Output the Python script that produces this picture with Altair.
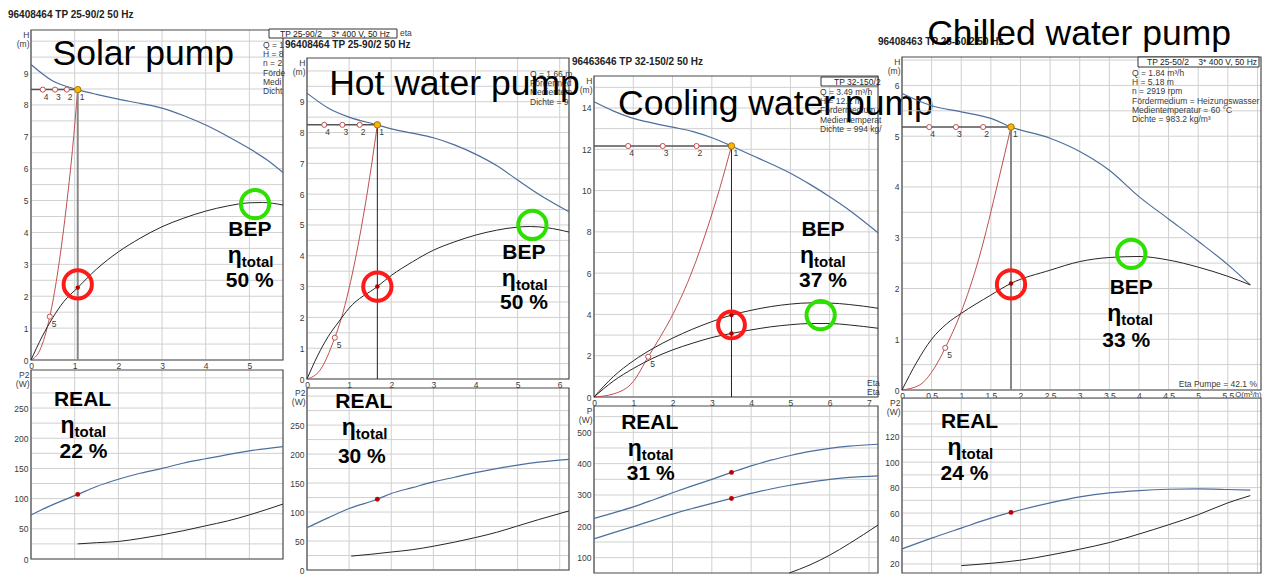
import altair as alt
import pandas as pd

FONT = "Liberation Sans"
BLUE = "#4d6e9c"
SYS = "#c0504d"
ETA = "#262626"
GRID = "#d0d0d0"
BORDER = "#4a4a4a"
TXT = "#3a3a3a"
RED = "#ff1a1a"
GREEN = "#2ee000"
NB = "\u00a0"

# ---------------- Solar pump (96408464 TP 25-90/2) ----------------
solar_h_q = [0, 0.5, 1.07, 1.5, 2, 2.5, 3, 3.5, 4, 4.5, 5, 5.4, 5.77]
solar_h_v = [9.27, 8.75, 8.48, 8.33, 8.18, 8.05, 7.9, 7.66, 7.37, 7.02, 6.63, 6.28, 5.88]
solar_eta_q = [0, 0.25, 0.5, 0.75, 1.07, 1.5, 2, 2.5, 3, 3.5, 4, 4.5, 5, 5.3, 5.77]
solar_eta_v = [0, 0.72, 1.33, 1.83, 2.27, 2.85, 3.39, 3.82, 4.18, 4.45, 4.67, 4.83, 4.93, 4.94, 4.86]
solar_sys_q = [0, 0.2, 0.43, 0.6, 0.8, 0.95, 1.07]
solar_sys_v = [0, 0.3, 1.36, 2.65, 4.7, 6.6, 8.48]
solar_p_q = [0, 0.5, 1.07, 1.5, 2, 2.5, 3, 3.5, 4, 4.5, 5, 5.77]
solar_p_v = [73, 90, 107, 120, 132, 142, 150, 159, 166, 173, 179, 186]
solar_low_q = [1.07, 1.5, 2, 2.5, 3, 3.5, 4, 4.5, 5, 5.77]
solar_low_v = [25, 27, 29, 34, 40, 47, 55, 63, 73, 91]
solar_op = [1.07, 8.48]
solar_op_eta = [2.27]
solar_op_p = [107]
solar_pts_q = [0.82, 0.55, 0.27]
solar_p5 = [0.43, 1.36]
solar_red_c = [1.07, 2.37]
solar_green_c = [5.13, 4.89]

# ---------------- Hot water pump (96408464 TP 25-90/2) ----------------
hot_h_q = [0, 0.5, 1, 1.67, 2, 2.5, 3, 3.5, 4, 4.5, 5, 5.5, 6.22]
hot_h_v = [9.28, 8.8, 8.5, 8.25, 8.12, 7.98, 7.83, 7.6, 7.3, 6.93, 6.46, 6.0, 5.43]
hot_eta_q = [0, 0.25, 0.5, 0.75, 1, 1.67, 2, 2.5, 3, 3.5, 4, 4.5, 5, 5.3, 5.7, 6.22]
hot_eta_v = [0, 0.75, 1.37, 1.85, 2.3, 3.0, 3.36, 3.8, 4.18, 4.45, 4.67, 4.83, 4.93, 4.95, 4.91, 4.77]
hot_sys_q = [0, 0.3, 0.66, 0.8, 1.0, 1.28, 1.5, 1.67]
hot_sys_v = [0, 0.27, 1.34, 1.9, 2.95, 4.84, 6.65, 8.25]
hot_p_q = [0, 0.5, 1, 1.67, 2, 2.5, 3, 3.5, 4, 4.5, 5, 5.5, 6.22]
hot_p_v = [73, 90, 106, 122, 132, 142, 152, 160, 168, 175, 181, 186, 191]
hot_low_q = [1.05, 1.5, 2, 2.5, 3, 3.5, 4, 4.5, 5, 5.5, 6.22]
hot_low_v = [24, 27, 31, 35, 41, 48, 56, 65, 76, 87, 102]
hot_op = [1.67, 8.25]
hot_op_eta = [3.0]
hot_op_p = [122]
hot_pts_q = [1.25, 0.84, 0.41]
hot_p5 = [0.66, 1.34]
hot_red_c = [1.67, 3.0]
hot_green_c = [5.35, 5.0]

# ---------------- Cooling water pump (96463646 TP 32-150/2) ----------------
cool_h_q = [0, 0.5, 1, 1.5, 2, 2.5, 3, 3.5, 4, 4.5, 5, 5.5, 6, 6.5, 7.23]
cool_h_v = [14.3, 13.85, 13.5, 13.27, 13.07, 12.87, 12.56, 12.16, 11.72, 11.3, 10.84, 10.3, 9.7, 9.05, 7.96]
cool_eta1_q = [0, 0.5, 1, 1.5, 2, 2.5, 3, 3.5, 4, 4.5, 5, 5.5, 6, 6.5, 7.23]
cool_eta1_v = [0, 1.0, 1.75, 2.35, 2.85, 3.28, 3.65, 3.97, 4.2, 4.38, 4.5, 4.56, 4.55, 4.48, 4.3]
cool_eta2_q = [0, 0.5, 1, 1.5, 2, 2.5, 3, 3.5, 4, 4.5, 5, 5.5, 6, 6.5, 7.23]
cool_eta2_v = [0, 0.78, 1.38, 1.88, 2.28, 2.6, 2.88, 3.08, 3.25, 3.4, 3.5, 3.56, 3.56, 3.49, 3.33]
cool_sys_q = [0, 0.5, 1, 1.38, 1.7, 2.02, 2.5, 2.87, 3.2, 3.5]
cool_sys_v = [0, 0.15, 0.75, 1.95, 2.95, 4.05, 6.1, 8.09, 10.1, 12.16]
cool_p1_q = [0, 0.5, 1, 1.5, 2, 2.5, 3, 3.5, 4, 4.5, 5, 5.5, 6, 6.5, 7.23]
cool_p1_v = [225, 243, 262, 284, 307, 329, 350, 372, 393, 411, 426, 439, 449, 456, 462]
cool_p2_q = [0, 0.5, 1, 1.5, 2, 2.5, 3, 3.5, 4, 4.5, 5, 5.5, 6, 6.5, 7.23]
cool_p2_v = [160, 180, 199, 219, 239, 257, 273, 289, 305, 319, 331, 341, 350, 356, 361]
cool_low_q = [4.97, 5.5, 6, 6.5, 7.23]
cool_low_v = [51, 77, 108, 145, 204]
cool_op = [3.5, 12.16]
cool_op_eta = [3.97, 3.08]
cool_op_p = [372, 289]
cool_pts_q = [2.61, 1.75, 0.87]
cool_p5 = [1.38, 1.95]
cool_red_c = [3.5, 3.49]
cool_green_c = [5.77, 3.97]

# ---------------- Chilled water pump (96408463 TP 25-50/2) ----------------
chill_h_q = [0, 0.5, 1, 1.5, 1.84, 2.5, 3, 3.5, 4, 4.5, 5, 5.5, 5.88]
chill_h_v = [5.84, 5.6, 5.48, 5.35, 5.18, 4.96, 4.7, 4.33, 3.81, 3.37, 2.93, 2.47, 2.07]
chill_eta_q = [0, 0.25, 0.5, 0.75, 1, 1.5, 1.84, 2.5, 3, 3.5, 4, 4.5, 5, 5.5, 5.88]
chill_eta_v = [0, 0.55, 1.0, 1.3, 1.51, 1.87, 2.1, 2.36, 2.53, 2.61, 2.63, 2.56, 2.42, 2.24, 2.07]
chill_sys_q = [0, 0.3, 0.5, 0.73, 0.99, 1.3, 1.63, 1.84]
chill_sys_v = [0, 0.1, 0.35, 0.83, 1.51, 2.6, 4.14, 5.18]
chill_p_q = [0, 0.5, 1, 1.5, 1.84, 2.5, 3, 3.5, 4, 4.5, 5, 5.5, 5.88]
chill_p_v = [31.8, 40.3, 48.2, 56, 60.5, 68, 72.7, 75.9, 77.7, 78.7, 79, 78.5, 78]
chill_low_q = [1, 1.5, 2, 2.5, 3, 3.5, 4, 4.5, 5, 5.5, 5.88]
chill_low_v = [18.7, 20.5, 23, 27, 31.6, 36.8, 43.5, 50.8, 58.7, 68, 73.7]
chill_op = [1.84, 5.18]
chill_op_eta = [2.1]
chill_op_p = [60.5]
chill_pts_q = [1.37, 0.91, 0.46]
chill_p5 = [0.73, 0.83]
chill_red_c = [1.84, 2.08]
chill_green_c = [3.87, 2.68]

# texts
titles = ["Solar pump", "Hot water pump", "Cooling water pump", "Chilled water pump"]
headers = ["96408464 TP 25-90/2 50 Hz", "96408464 TP 25-90/2 50 Hz",
           "96463646 TP 32-150/2 50 Hz", "96408463 TP 25-50/2 50 Hz"]
bep_pct = ["50 %", "50 %", "37 %", "33 %"]
real_pct = ["22 %", "30 %", "31 %", "24 %"]

W, H = 1254, 565


def frame(q, v):
    return pd.DataFrame({"q": q, "v": v})


def one(q, v):
    return pd.DataFrame({"q": [q], "v": [v]})


def rng(a, b, s):
    out, v = [], a
    while v <= b + 1e-9:
        out.append(round(v, 3))
        v += s
    return out


def axis(values, expr, orient, offset, title=None, labels=True, title_y=0):
    kw = dict(values=values, orient=orient, offset=offset, domain=False, ticks=False, grid=False,
              labelFont=FONT, labelFontSize=8.5, labelColor=TXT, labelFlush=False,
              labelOverlap=False, labels=labels)
    if expr:
        kw["labelExpr"] = expr
    if title:
        kw.update(title=title, titleAngle=0, titleAlign="right", titleBaseline="top", titleX=-2,
                  titleY=title_y, titleFont=FONT, titleFontSize=8.5, titleFontWeight="normal",
                  titleColor=TXT, titleLineHeight=9, labelPadding=3)
    else:
        kw.update(title=None, labelPadding=1)
    return alt.Axis(**kw)


def gridlines(X, Y, xdom, ydom, xgrid, ygrid):
    vx = pd.DataFrame({"q": xgrid, "v": [ydom[0]] * len(xgrid), "v2": [ydom[1]] * len(xgrid)})
    hy = pd.DataFrame({"v": ygrid, "q": [xdom[0]] * len(ygrid), "q2": [xdom[1]] * len(ygrid)})
    return [
        alt.Chart(vx).mark_rule(color=GRID, strokeWidth=1).encode(x=X, y=Y, y2=alt.Y2("v2")),
        alt.Chart(hy).mark_rule(color=GRID, strokeWidth=1).encode(y=Y, x=X, x2=alt.X2("q2")),
    ]


def note(X, Y, xy, head, pct, eta_dx=-8, pct_dx=0, pct_dy=51):
    base = alt.Chart(one(xy[0], xy[1]))
    c = dict(font=FONT, fontWeight="bold", color="black")
    return [
        base.mark_text(text=head, fontSize=21, align="center", baseline="middle", **c).encode(x=X, y=Y),
        base.mark_text(text="η", fontSize=23, align="right", baseline="alphabetic", dx=eta_dx, dy=33, **c).encode(x=X, y=Y),
        base.mark_text(text="total", fontSize=15, align="left", baseline="alphabetic", dx=eta_dx, dy=37, **c).encode(x=X, y=Y),
        base.mark_text(text=pct, fontSize=21, align="center", baseline="middle", dx=pct_dx, dy=pct_dy, **c).encode(x=X, y=Y),
    ]


def border(X, Y, xdom, ydom):
    d = pd.DataFrame({"q": [xdom[0]], "q2": [xdom[1]], "v": [ydom[0]], "v2": [ydom[1]]})
    return alt.Chart(d).mark_rect(fill="transparent", stroke=BORDER, strokeWidth=1.2).encode(
        x=X, x2=alt.X2("q2"), y=Y, y2=alt.Y2("v2"))


def upper(p):
    x0, x1 = p["xr"]
    yb, yt = p["ur"]
    xdom, ydom = [0, p["xmax"]], [0, p["ymax"]]
    xs = alt.Scale(domain=xdom, range=[x0, x1], nice=False, zero=False)
    ys = alt.Scale(domain=ydom, range=[yb, yt], nice=False, zero=False)
    X = alt.X("q:Q", scale=xs, axis=axis(p["xgrid"], p["xlab"], "bottom", -(H - yb)))
    Y = alt.Y("v:Q", scale=ys, axis=axis(p["ygrid"], p["ylab"], "left", -x0, title=["H", "(m)"], title_y=yt))
    L = gridlines(X, Y, xdom, ydom, p["xgrid"], p["ygrid"])
    L.append(border(X, Y, xdom, ydom))
    L.append(alt.Chart(frame(p["h_q"], p["h_v"])).mark_line(color=BLUE, strokeWidth=1.2, interpolate="monotone").encode(x=X, y=Y))
    L.append(alt.Chart(frame(p["sys_q"], p["sys_v"])).mark_line(color=SYS, strokeWidth=1, interpolate="monotone").encode(x=X, y=Y))
    for eq, ev in p["etas"]:
        L.append(alt.Chart(frame(eq, ev)).mark_line(color=ETA, strokeWidth=1, interpolate="monotone").encode(x=X, y=Y))
    oq, oh = p["op"]
    L.append(alt.Chart(pd.DataFrame({"q": [0], "q2": [oq], "v": [oh]})).mark_rule(color="#555", strokeWidth=1.5).encode(x=X, x2=alt.X2("q2"), y=Y))
    L.append(alt.Chart(pd.DataFrame({"q": [oq], "v": [0], "v2": [oh]})).mark_rule(color=p["vcol"], strokeWidth=p["vw"]).encode(x=X, y=Y, y2=alt.Y2("v2")))
    pts = pd.DataFrame({"q": p["pts_q"], "v": [oh] * 3, "lab": ["2", "3", "4"]})
    L.append(alt.Chart(pts).mark_point(shape="circle", filled=True, fill="white", stroke=SYS, strokeWidth=1, size=26, opacity=1).encode(x=X, y=Y))
    L.append(alt.Chart(pts).mark_text(font=FONT, fontSize=8.5, color=TXT, align="left", baseline="middle", dx=1, dy=7).encode(x=X, y=Y, text="lab:N"))
    p5 = pd.DataFrame({"q": [p["p5"][0]], "v": [p["p5"][1]], "lab": ["5"]})
    L.append(alt.Chart(p5).mark_point(shape="circle", filled=True, fill="white", stroke=SYS, strokeWidth=1, size=26, opacity=1).encode(x=X, y=Y))
    L.append(alt.Chart(p5).mark_text(font=FONT, fontSize=8.5, color=TXT, align="left", baseline="middle", dx=2, dy=7).encode(x=X, y=Y, text="lab:N"))
    op = pd.DataFrame({"q": [oq], "v": [oh], "lab": ["1"]})
    L.append(alt.Chart(op).mark_circle(fill="#f5b70f", stroke="#a87400", strokeWidth=1, size=42, opacity=1).encode(x=X, y=Y))
    L.append(alt.Chart(op).mark_text(font=FONT, fontSize=8.5, color=TXT, align="left", baseline="middle", dx=2, dy=7).encode(x=X, y=Y, text="lab:N"))
    L.append(alt.Chart(frame([oq] * len(p["op_eta"]), p["op_eta"])).mark_circle(color="#b00000", size=20, opacity=1).encode(x=X, y=Y))
    L.append(alt.Chart(one(*p["red_c"])).mark_point(shape="circle", filled=False, color=RED, strokeWidth=4, size=p["rsize"], opacity=1).encode(x=X, y=Y))
    L.append(alt.Chart(one(*p["green_c"])).mark_point(shape="circle", filled=False, color=GREEN, strokeWidth=4, size=800, opacity=1).encode(x=X, y=Y))
    # header, info box and texts (positions relative to the plot's top-left corner)
    L.append(alt.Chart(one(0, 0)).mark_text(text=p["header"], font=FONT, fontSize=10, fontWeight="bold", color="#222", align="left", baseline="middle").encode(x=alt.value(x0 + p["hx"]), y=alt.value(yt + p["hy"])))
    for b in p["boxes"]:
        L.append(alt.Chart(one(0, 0)).mark_rect(fill="white", stroke="#333", strokeWidth=1).encode(x=alt.value(x0 + b[0]), x2=alt.value(x0 + b[1]), y=alt.value(yt + b[2]), y2=alt.value(yt + b[3])))
        L.append(alt.Chart(one(0, 0)).mark_text(text=b[4], font=FONT, fontSize=8.5, color="#222", align="left", baseline="middle").encode(x=alt.value(x0 + b[5]), y=alt.value(yt + (b[2] + b[3]) / 2)))
    for t in p["info"]:
        L.append(alt.Chart(one(0, 0)).mark_text(text=t[0], font=FONT, fontSize=t[3], color=TXT, align=t[4], baseline="middle", lineHeight=9.2).encode(x=alt.value(x0 + t[1]), y=alt.value(yt + t[2])))
    L.append(alt.Chart(one(*p["title_xy"])).mark_text(text=p["title"], font=FONT, fontSize=35.5, color="black", align="center", baseline="alphabetic").encode(x=X, y=Y))
    L += note(X, Y, p["bep_xy"], "BEP", p["bep_pct"], eta_dx=p["bep_edx"], pct_dx=p["bep_pdx"], pct_dy=p["bep_pdy"])
    return alt.layer(*L)


def lower(p):
    x0, x1 = p["xr"]
    yb, yt = p["lr"]
    xdom, ydom = [0, p["xmax"]], p["pdom"]
    xs = alt.Scale(domain=xdom, range=[x0, x1], nice=False, zero=False)
    ys = alt.Scale(domain=ydom, range=[yb, yt], nice=False, zero=False)
    X = alt.X("q:Q", scale=xs, axis=axis(p["xgrid"], None, "bottom", -(H - yb), labels=False))
    Y = alt.Y("v:Q", scale=ys, axis=axis(p["pgrid"], p["plab"], "left", -x0, title=[p["ptitle"], "(W)"], title_y=yt))
    L = gridlines(X, Y, xdom, ydom, p["xgrid"], p["pgrid"])
    L.append(border(X, Y, xdom, ydom))
    for pq, pv in p["pcurves"]:
        L.append(alt.Chart(frame(pq, pv)).mark_line(color=BLUE, strokeWidth=1.2, interpolate="monotone").encode(x=X, y=Y))
    L.append(alt.Chart(frame(p["low_q"], p["low_v"])).mark_line(color=ETA, strokeWidth=1, interpolate="monotone").encode(x=X, y=Y))
    L.append(alt.Chart(frame([p["op"][0]] * len(p["op_p"]), p["op_p"])).mark_circle(color="#c00000", size=24, opacity=1).encode(x=X, y=Y))
    L += note(X, Y, p["real_xy"], "REAL", p["real_pct"], eta_dx=-8, pct_dx=p["real_pdx"], pct_dy=p["real_pdy"])
    return alt.layer(*L)


panels = [
    dict(xr=(23, 275), ur=(352, 22), lr=(551, 362), hx=-23, hy=-15, header=headers[0], title=titles[0],
         xmax=5.77, ymax=10.35, xgrid=rng(0, 5, 1), ygrid=rng(0, 10, 0.5),
         xlab="'' + datum.value", ylab="datum.value % 1 == 0 && datum.value <= 9 ? '' + datum.value : ''",
         h_q=solar_h_q, h_v=solar_h_v, sys_q=solar_sys_q, sys_v=solar_sys_v,
         etas=[(solar_eta_q, solar_eta_v)], op=solar_op, op_eta=solar_op_eta, op_p=solar_op_p,
         pts_q=solar_pts_q, p5=solar_p5, red_c=solar_red_c, green_c=solar_green_c, rsize=800,
         vcol="#888", vw=2, title_xy=(2.57, 9.25), bep_xy=(5.01, 4.09), bep_pct=bep_pct[0],
         bep_edx=-8, bep_pdx=0, bep_pdy=51,
         info=[(["Q = 1", "H = 8", "n = 2", "Förde", "Medi", "Dicht"], 232, 15, 8.5, "left"),
               ("eta", 369, 3, 8.5, "left")],
         boxes=[(238, 366, -1, 8, "TP 25-90/2" + NB * 4 + "3* 400 V, 50 Hz", 249)],
         pdom=[0, 313], pgrid=rng(0, 300, 25), ptitle="P2",
         plab="datum.value % 50 == 0 && datum.value <= 250 ? '' + datum.value : ''",
         pcurves=[(solar_p_q, solar_p_v)], low_q=solar_low_q, low_v=solar_low_v,
         real_xy=(1.18, 262.7), real_pct=real_pct[0], real_pdx=1, real_pdy=52),
    dict(xr=(299, 561), ur=(371, 50), lr=(562, 380), hx=-22, hy=-13.5, header=headers[1], title=titles[1],
         xmax=6.22, ymax=10.42, xgrid=rng(0, 6, 1), ygrid=rng(0, 10, 0.5),
         xlab="'' + datum.value", ylab="datum.value % 1 == 0 && datum.value <= 9 ? '' + datum.value : ''",
         h_q=hot_h_q, h_v=hot_h_v, sys_q=hot_sys_q, sys_v=hot_sys_v,
         etas=[(hot_eta_q, hot_eta_v)], op=hot_op, op_eta=hot_op_eta, op_p=hot_op_p,
         pts_q=hot_pts_q, p5=hot_p5, red_c=hot_red_c, green_c=hot_green_c, rsize=800,
         vcol="#222", vw=1, title_xy=(3.5, 9.22), bep_xy=(5.15, 4.09), bep_pct=bep_pct[1],
         bep_edx=-8, bep_pdx=0, bep_pdy=50,
         info=[(["Q = 1.66 m", "", "", "Fördermed", "Medientem", "Dichte = 9"], 223, 16, 8.5, "left")],
         boxes=[],
         pdom=[0, 314], pgrid=rng(0, 300, 25), ptitle="P2",
         plab="datum.value % 50 == 0 && datum.value <= 250 ? '' + datum.value : ''",
         pcurves=[(hot_p_q, hot_p_v)], low_q=hot_low_q, low_v=hot_low_v,
         real_xy=(1.35, 290), real_pct=real_pct[1], real_pdx=-2, real_pdy=55),
    dict(xr=(586, 870), ur=(389, 68), lr=(565, 398), hx=-22, hy=-14, header=headers[2], title=titles[2],
         xmax=7.23, ymax=15.55, xgrid=rng(0, 7, 1), ygrid=rng(0, 15, 1),
         xlab="'' + datum.value", ylab="datum.value % 2 == 0 ? '' + datum.value : ''",
         h_q=cool_h_q, h_v=cool_h_v, sys_q=cool_sys_q, sys_v=cool_sys_v,
         etas=[(cool_eta1_q, cool_eta1_v), (cool_eta2_q, cool_eta2_v)], op=cool_op,
         op_eta=cool_op_eta, op_p=cool_op_p,
         pts_q=cool_pts_q, p5=cool_p5, red_c=cool_red_c, green_c=cool_green_c, rsize=720,
         vcol="#222", vw=1, title_xy=(4.63, 13.66), bep_xy=(5.83, 8.09), bep_pct=bep_pct[2],
         bep_edx=-9, bep_pdx=0, bep_pdy=51,
         info=[(["Q = 3.49 m³/h", "H = 12.2 m", "Fördermedium", "Medientemperat", "Dichte = 994 kg/"], 226, 16, 8.5, "left"),
               (["Eta", "Eta"], 273, 307, 8.5, "left")],
         boxes=[(227, 284, 1, 10, "TP 32-150/2", 240)],
         pdom=[51, 584], pgrid=rng(100, 550, 50), ptitle="P",
         plab="datum.value % 100 == 0 ? '' + datum.value : ''",
         pcurves=[(cool_p1_q, cool_p1_v), (cool_p2_q, cool_p2_v)], low_q=cool_low_q, low_v=cool_low_v,
         real_xy=(1.42, 531), real_pct=real_pct[2], real_pdx=1, real_pdy=51),
    dict(xr=(894, 1253), ur=(382, 49), lr=(565, 390), hx=-24, hy=-15, header=headers[3], title=titles[3],
         xmax=6.06, ymax=6.56, xgrid=rng(0, 6, 0.5), ygrid=rng(0, 6.5, 0.5),
         xlab="datum.value < 6 ? '' + datum.value : ''", ylab="datum.value % 1 == 0 ? '' + datum.value : ''",
         h_q=chill_h_q, h_v=chill_h_v, sys_q=chill_sys_q, sys_v=chill_sys_v,
         etas=[(chill_eta_q, chill_eta_v)], op=chill_op, op_eta=chill_op_eta, op_p=chill_op_p,
         pts_q=chill_pts_q, p5=chill_p5, red_c=chill_red_c, green_c=chill_green_c, rsize=800,
         vcol="#888", vw=2, title_xy=(2.99, 6.8), bep_xy=(3.87, 2.01), bep_pct=bep_pct[3],
         bep_edx=-10, bep_pdx=-5, bep_pdy=53,
         info=[(["Q = 1.84 m³/h", "H = 5.18 m", "n = 2919 rpm", "Fördermedium = Heizungswasser",
                 "Medientemperatur = 60 °C", "Dichte = 983.2 kg/m³"], 230, 16, 8.5, "left"),
               ("Eta Pumpe = 42.1 %", 355, 327, 8.5, "right"),
               ("Q(m³/h)", 359.5, 338, 7.6, "right")],
         boxes=[(236, 357, 0, 10, "TP 25-50/2" + NB * 4 + "3* 400 V, 50 Hz", 245)],
         pdom=[12.9, 150.4], pgrid=rng(20, 150, 10), ptitle="P2",
         plab="datum.value % 20 == 0 && datum.value <= 120 ? '' + datum.value : ''",
         pcurves=[(chill_p_q, chill_p_v)], low_q=chill_low_q, low_v=chill_low_v,
         real_xy=(1.14, 131.5), real_pct=real_pct[3], real_pdx=-5, real_pdy=52),
]

layers = []
for p in panels:
    layers.append(upper(p))
    layers.append(lower(p))

chart = alt.layer(*layers).resolve_scale(x="independent", y="independent").resolve_axis(
    x="independent", y="independent"
).properties(width=W, height=H, padding=0, background="white").configure_view(strokeWidth=0)

chart.save("out.html", embed_options={"renderer": "svg", "actions": False})
